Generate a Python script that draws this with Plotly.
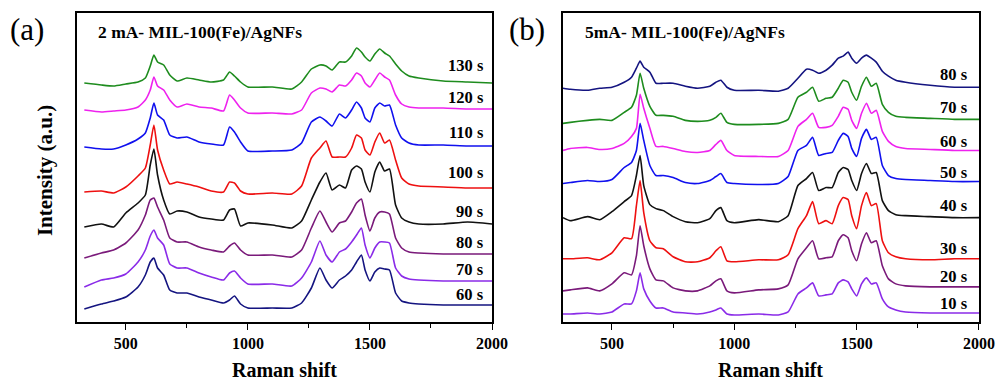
import plotly.graph_objects as go

# Raman shift grid (cm^-1)
shift_a = [330, 400, 450, 500, 550, 580, 600, 615, 630, 655, 680, 710, 750, 800, 850,
           900, 925, 945, 970, 1000, 1100, 1180, 1220, 1260, 1295, 1320, 1345, 1375, 1400, 1425,
           1445, 1465, 1480, 1500, 1520, 1540, 1560, 1580, 1605, 1630, 1660, 1700, 1800, 1900, 2000]
shift_b = [300] + shift_a

# Panel (a): 2 mA, stacked spectra (a.u., offset included)
a_130 = [247, 245, 244, 246, 248, 252, 264, 275, 268, 265, 255, 249, 252, 250, 248,
         250, 258, 254, 248, 243, 243, 241, 248, 261, 265, 264, 260, 268, 268, 274,
         282, 278, 273, 269, 276, 281, 277, 274, 266, 259, 254, 252, 249, 248, 247]
a_120 = [220, 218, 219, 220, 223, 230, 240, 253, 244, 240, 230, 223, 226, 223, 222,
         219, 235, 230, 222, 217, 217, 216, 220, 237, 242, 241, 238, 245, 244, 250,
         257, 254, 247, 243, 250, 257, 253, 250, 235, 226, 223, 222, 222, 221, 221]
a_110 = [183, 181, 181, 185, 191, 197, 212, 227, 215, 210, 195, 192, 193, 188, 186,
         185, 203, 198, 188, 179, 179, 180, 187, 208, 213, 209, 204, 216, 212, 220,
         228, 222, 212, 208, 222, 227, 224, 225, 205, 192, 187, 185, 185, 184, 184]
a_100 = [138, 139, 137, 143, 154, 162, 185, 205, 180, 160, 146, 148, 146, 143, 139,
         138, 148, 147, 139, 136, 137, 136, 144, 172, 182, 189, 173, 173, 173, 182,
         195, 192, 180, 175, 188, 197, 187, 190, 170, 152, 146, 144, 143, 142, 142]
a_90 = [103, 106, 103, 117, 127, 135, 165, 181, 155, 130, 116, 119, 118, 113, 111,
        110, 120, 121, 104, 107, 105, 102, 109, 130, 148, 157, 140, 145, 142, 160,
        164, 161, 148, 138, 158, 168, 159, 161, 125, 112, 108, 106, 106, 108, 106]
a_80 = [72, 77, 80, 87, 100, 115, 130, 132, 123, 110, 92, 88, 88, 83, 80,
        78, 84, 87, 80, 75, 75, 73, 80, 102, 119, 108, 98, 107, 109, 118,
        127, 131, 115, 99, 112, 118, 118, 116, 92, 82, 78, 77, 76, 76, 76]
a_70 = [43, 50, 52, 56, 68, 80, 94, 100, 92, 85, 66, 62, 62, 57, 53,
        50, 57, 59, 52, 46, 46, 44, 52, 68, 89, 75, 68, 78, 81, 88,
        95, 102, 85, 72, 82, 88, 88, 87, 62, 54, 51, 50, 49, 49, 49]
a_60 = [21, 26, 29, 33, 43, 55, 68, 72, 62, 55, 40, 37, 37, 33, 30,
        27, 30, 34, 26, 22, 22, 22, 27, 42, 62, 50, 42, 50, 54, 60,
        68, 75, 60, 49, 58, 62, 61, 60, 37, 29, 27, 26, 25, 25, 25]

# Panel (b): 5 mA
b_80 = [242, 241, 240, 242, 243, 248, 253, 262, 269, 263, 258, 247, 247, 247, 244,
        242, 244, 248, 250, 243, 240, 240, 239, 242, 252, 261, 260, 257, 260, 265,
        272, 274, 278, 272, 267, 272, 275, 272, 268, 259, 254, 250, 248, 245, 243, 243]
b_70 = [207, 208, 210, 211, 210, 218, 223, 235, 257, 242, 224, 215, 215, 214, 210,
        209, 210, 213, 217, 208, 206, 206, 207, 211, 233, 238, 243, 229, 232, 233,
        242, 250, 248, 238, 230, 244, 253, 244, 247, 226, 218, 214, 213, 212, 211, 211]
b_60 = [180, 182, 183, 181, 182, 187, 194, 202, 236, 222, 202, 184, 184, 182, 179,
        178, 180, 186, 190, 180, 175, 174, 174, 180, 204, 211, 217, 203, 203, 205,
        214, 223, 221, 210, 202, 217, 227, 217, 220, 199, 189, 184, 182, 181, 180, 180]
b_50 = [147, 148, 150, 149, 151, 163, 168, 180, 207, 190, 165, 155, 155, 153, 148,
        147, 150, 154, 157, 148, 147, 146, 147, 154, 180, 185, 193, 175, 177, 178,
        190, 197, 194, 182, 174, 192, 201, 191, 193, 165, 155, 152, 151, 150, 149, 149]
b_40 = [113, 110, 114, 111, 119, 129, 135, 155, 175, 145, 126, 122, 120, 114, 109,
        108, 112, 120, 123, 110, 108, 111, 109, 115, 145, 152, 158, 140, 143, 143,
        158, 163, 161, 150, 140, 157, 167, 157, 158, 130, 120, 116, 115, 114, 113, 113]
b_30 = [72, 72, 73, 71, 78, 93, 92, 125, 150, 118, 90, 83, 82, 74, 69,
        69, 73, 80, 84, 70, 69, 71, 71, 76, 102, 115, 129, 107, 110, 107,
        125, 133, 131, 115, 102, 125, 138, 125, 127, 90, 78, 74, 72, 71, 72, 72]
b_20 = [40, 41, 43, 40, 47, 58, 56, 75, 105, 85, 62, 51, 50, 43, 40,
        40, 45, 50, 52, 40, 38, 41, 42, 46, 72, 83, 90, 72, 73, 74,
        90, 96, 93, 80, 70, 87, 98, 88, 90, 65, 52, 47, 45, 44, 44, 44]
b_10 = [17, 17, 18, 17, 19, 27, 27, 40, 58, 42, 30, 23, 23, 19, 18,
        17, 19, 21, 23, 17, 16, 17, 16, 19, 37, 43, 48, 35, 36, 37,
        48, 51, 49, 42, 35, 47, 53, 47, 48, 32, 24, 21, 19, 18, 18, 18]

labels_a = ["130 s", "120 s", "110 s", "100 s", "90 s", "80 s", "70 s", "60 s"]
labels_b = ["80 s", "70 s", "60 s", "50 s", "40 s", "30 s", "20 s", "10 s"]
series_a = [a_130, a_120, a_110, a_100, a_90, a_80, a_70, a_60]
series_b = [b_80, b_70, b_60, b_50, b_40, b_30, b_20, b_10]
label_y_a = [265, 233, 198, 158, 119, 88, 61, 36]
label_y_b = [256, 223, 189, 158, 125, 82, 54, 27]

colors_a = ["#1e8c1e", "#ee22ee", "#1010ee", "#ee1010", "#111111", "#7a1a7a", "#8a2be8", "#141480"]
colors_b = ["#141480", "#1e8c1e", "#ee22ee", "#1010ee", "#111111", "#ee1010", "#7a1a7a", "#8a2be8"]

fig = go.Figure()
for ys, c, name in zip(series_a, colors_a, labels_a):
    fig.add_trace(go.Scatter(x=shift_a, y=ys, mode="lines",
                             line=dict(color=c, width=1.6, shape="spline", smoothing=0.5),
                             name=name, xaxis="x", yaxis="y", showlegend=False))
for ys, c, name in zip(series_b, colors_b, labels_b):
    fig.add_trace(go.Scatter(x=shift_b, y=ys, mode="lines",
                             line=dict(color=c, width=1.6, shape="spline", smoothing=0.5),
                             name=name, xaxis="x2", yaxis="y2", showlegend=False))

FONT = "Liberation Serif, Times New Roman, serif"
xax = dict(range=[300, 2000], showline=True, linecolor="black", linewidth=1.6, mirror=True,
           ticks="outside", ticklen=6, tickwidth=1.4, tickcolor="black", automargin=False,
           tickvals=[500, 1000, 1500, 2000], showgrid=False, zeroline=False,
           tickfont=dict(family=FONT, size=16, color="black", weight="bold"),
           minor=dict(tickvals=[750, 1250, 1750], ticks="outside", ticklen=4, tickcolor="black"))
yax = dict(showline=True, linecolor="black", linewidth=1.6, mirror=True, ticks="",
           showticklabels=False, showgrid=False, zeroline=False, automargin=False)

fig.update_layout(
    width=998, height=383, margin=dict(l=77, r=19, t=13, b=61, autoexpand=False),
    paper_bgcolor="white", plot_bgcolor="white",
    xaxis=dict(domain=[0, 0.4601], anchor="y", **xax),
    xaxis2=dict(domain=[0.5388, 1], anchor="y2", **xax),
    yaxis=dict(domain=[0, 1], anchor="x", range=[8, 317], **yax),
    yaxis2=dict(domain=[0, 1], anchor="x2", range=[9, 317], **yax),
)

ann = []
for lab, ly in zip(labels_a, label_y_a):
    ann.append(dict(x=1975, y=ly, xref="x", yref="y", text=f"<b>{lab}</b>", showarrow=False,
                    xanchor="right", yanchor="middle", font=dict(family=FONT, size=16.5, color="black")))
for lab, ly in zip(labels_b, label_y_b):
    ann.append(dict(x=1965, y=ly, xref="x2", yref="y2", text=f"<b>{lab}</b>", showarrow=False,
                    xanchor="right", yanchor="middle", font=dict(family=FONT, size=16.5, color="black")))
ann += [
    dict(x=0.021, y=0.939, xref="paper", yref="paper", text="<b>2 mA- MIL-100(Fe)/AgNFs</b>",
         showarrow=False, xanchor="left", yanchor="middle", font=dict(family=FONT, size=17.5, color="black")),
    dict(x=0.5610, y=0.939, xref="paper", yref="paper", text="<b>5mA- MIL-100(Fe)/AgNFs</b>",
         showarrow=False, xanchor="left", yanchor="middle", font=dict(family=FONT, size=17.5, color="black")),
    dict(x=-0.077, y=0.947, xref="paper", yref="paper", text="(a)", showarrow=False,
         xanchor="left", yanchor="middle", font=dict(family=FONT, size=31, color="black")),
    dict(x=0.477, y=0.947, xref="paper", yref="paper", text="(b)", showarrow=False,
         xanchor="left", yanchor="middle", font=dict(family=FONT, size=31, color="black")),
    dict(x=-0.036, y=0.49, xref="paper", yref="paper", text="<b>Intensity (a.u.)</b>", textangle=-90,
         showarrow=False, xanchor="center", yanchor="middle", font=dict(family=FONT, size=21, color="black")),
    dict(x=0.2301, y=-0.155, xref="paper", yref="paper", text="<b>Raman shift</b>", showarrow=False,
         xanchor="center", yanchor="middle", font=dict(family=FONT, size=20, color="black")),
    dict(x=0.7694, y=-0.155, xref="paper", yref="paper", text="<b>Raman shift</b>", showarrow=False,
         xanchor="center", yanchor="middle", font=dict(family=FONT, size=20, color="black")),
]
fig.update_layout(annotations=ann)

fig.write_html("out.html", config={"displayModeBar": False},
               post_script="document.body.style.margin='0';document.body.style.overflow='hidden';")
